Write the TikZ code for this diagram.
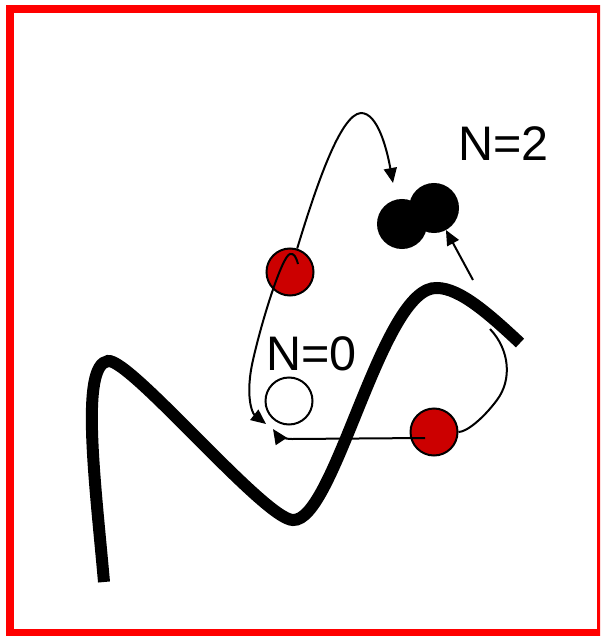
\documentclass[tikz,border=0pt]{standalone}
\usepackage{fontspec}
\setmainfont{Liberation Sans}
\usetikzlibrary{arrows.meta}
\pgfdeclarelayer{back}
\pgfsetlayers{back,main}
\definecolor{framered}{HTML}{FF0000}
\definecolor{ballred}{HTML}{CC0000}
\begin{document}
\begin{tikzpicture}[x=1pt,y=-1pt,
  ball/.style={circle,draw=black,line width=2pt,minimum size=47pt,inner sep=0pt},
  path line/.style={line width=2pt},
  tipped/.style={path line,-{Triangle[length=15pt,width=13pt]}},
  lbl/.style={font=\fontsize{48.5}{52}\selectfont,inner sep=0pt,anchor=base west}]
\useasboundingbox (0,0) rectangle (600,636);
\clip (0,0) rectangle (600,636);

% outer frame
\draw[framered,line width=8pt] (10,9) rectangle (601,633);

% potential energy curve
\draw[line width=12pt,line cap=butt]
  (104,582) .. controls (95,480) and (80,365) .. (108,361)
            .. controls (130,358) and (265,520) .. (293,520)
            .. controls (335,522) and (382,285) .. (437,288)
            .. controls (460,288) and (490,315) .. (520,343);

% particles
\node[ball,fill=ballred] (r1) at (290,272) {};
\node[ball,fill=ballred] (r2) at (434,432) {};
\node[ball,fill=white]   (n0) at (289,401) {};
\node[ball,fill=black,minimum size=48pt] (p2) at (434,208) {};
\node[ball,fill=black,minimum size=48pt] (p1) at (402,224) {};

% labels
\node[lbl] (t2) at (458,161) {N=2};
\node[lbl] (t0) at (266,370) {N=0};

% named ends of the trajectories
\coordinate (upTip)    at (393,183);
\coordinate (hookA)    at (298,264);
\coordinate (downTip)  at (266,424);
\coordinate (sideA)    at (425,438);
\coordinate (sideTip)  at (273,429);
\coordinate (loopA)    at (490,329);
\coordinate (riseA)    at (473,280);

% trajectories passing behind the particles
\begin{pgfonlayer}{back}
\draw[tipped] (r1) .. controls (315,190) and (340,114) .. (361,113)
                   .. controls (378,113) and (387,150) .. (upTip);
\draw[path line] (loopA) .. controls (510,350) and (512,380) .. (497,400)
                         .. controls (482,420) and (466,432) .. (r2);
\end{pgfonlayer}

% trajectories drawn over the particles
\draw[tipped] (hookA) .. controls (296,257) and (294,253) .. (290,254)
                      .. controls (282,256) and (262,320) .. (253,360)
                      .. controls (245,395) and (252,413) .. (downTip);
\draw[tipped] (sideA) -- (292,439) .. controls (283,439) and (277,435) .. (sideTip);
\draw[tipped] (riseA) -- (p2);
\end{tikzpicture}
\end{document}
